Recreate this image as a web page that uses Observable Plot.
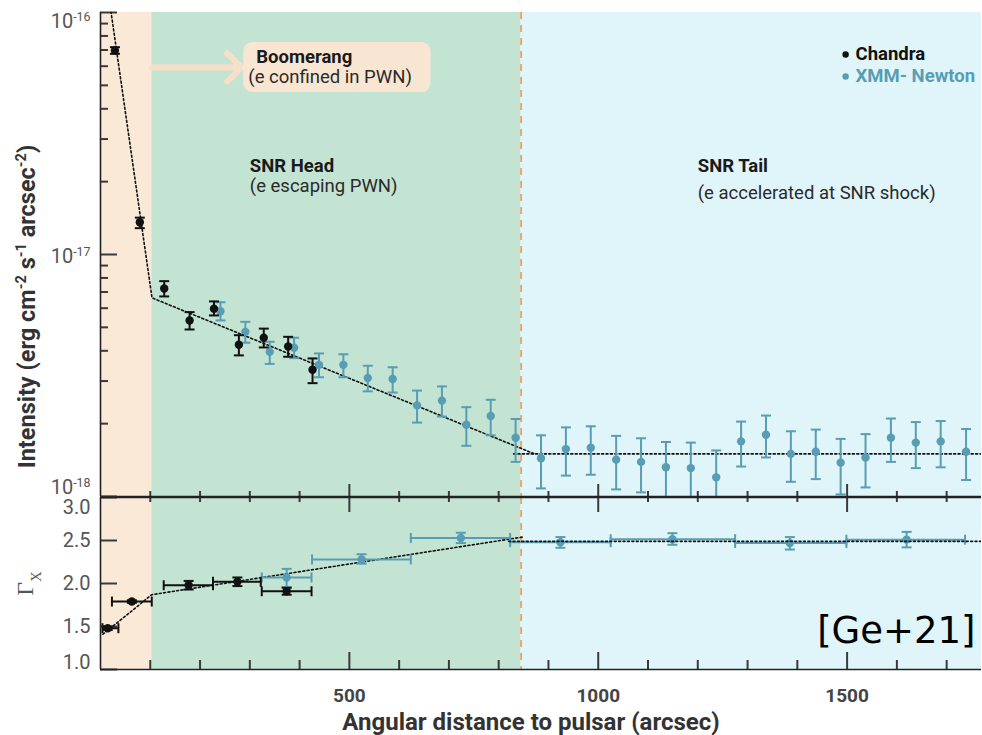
<!DOCTYPE html>
<html>
<head>
<meta charset="utf-8">
<script src="https://cdn.jsdelivr.net/npm/d3@7"></script>
<script src="https://cdn.jsdelivr.net/npm/@observablehq/plot@0.6"></script>
<style>
  body { margin: 0; background: #fff; }
  #chart { width: 982px; }
  #chart svg { display: block; }
</style>
</head>
<body>
<div id="chart"></div>
<script>
// X-ray profile along the Boomerang PWN and the SNR G106.3+2.7 head and tail

// Regions along the profile (arcsec) and their shading
const regionEdges = [0, 103, 845, 1770];
const regionFills = ["#fbe9d8", "#c4e4d3", "#e0f5fa"];

// Chandra surface brightness (erg cm^-2 s^-1 arcsec^-2)
const chandraX   = [29, 79, 128, 179, 228, 278, 328, 377, 426];
const chandraI   = [6.97e-17, 1.36e-17, 7.24e-18, 5.34e-18, 5.97e-18, 4.24e-18, 4.53e-18, 4.17e-18, 3.34e-18];
const chandraIHi = [7.19e-17, 1.42e-17, 7.76e-18, 5.78e-18, 6.40e-18, 4.64e-18, 4.94e-18, 4.57e-18, 3.72e-18];
const chandraILo = [6.75e-17, 1.285e-17, 6.71e-18, 4.90e-18, 5.60e-18, 3.83e-18, 4.13e-18, 3.78e-18, 2.94e-18];

// XMM-Newton surface brightness
const xmmX = [241, 291, 340, 389, 439, 488, 537, 587, 636, 686, 735, 784, 834, 885, 935, 985,
              1036, 1086, 1136, 1186, 1237, 1287, 1337, 1387, 1437, 1487, 1537, 1588, 1638, 1688, 1739];
const xmmI = [5.83e-18, 4.79e-18, 3.96e-18, 4.12e-18, 3.50e-18, 3.50e-18, 3.09e-18, 3.06e-18, 2.38e-18, 2.49e-18,
              1.98e-18, 2.15e-18, 1.75e-18, 1.44e-18, 1.57e-18, 1.59e-18, 1.42e-18, 1.39e-18, 1.32e-18, 1.31e-18,
              1.20e-18, 1.69e-18, 1.80e-18, 1.50e-18, 1.53e-18, 1.38e-18, 1.45e-18, 1.75e-18, 1.67e-18, 1.69e-18, 1.53e-18];
const xmmIHi = [6.35e-18, 5.27e-18, 4.36e-18, 4.53e-18, 3.90e-18, 3.87e-18, 3.47e-18, 3.42e-18, 2.74e-18, 2.85e-18,
                2.34e-18, 2.51e-18, 2.09e-18, 1.79e-18, 1.93e-18, 1.95e-18, 1.78e-18, 1.74e-18, 1.68e-18, 1.67e-18,
                1.55e-18, 2.04e-18, 2.16e-18, 1.86e-18, 1.89e-18, 1.73e-18, 1.81e-18, 2.10e-18, 2.03e-18, 2.05e-18, 1.90e-18];
const xmmILo = [5.34e-18, 4.32e-18, 3.53e-18, 3.73e-18, 3.11e-18, 3.11e-18, 2.72e-18, 2.69e-18, 2.02e-18, 2.14e-18,
                1.62e-18, 1.79e-18, 1.39e-18, 1.08e-18, 1.22e-18, 1.23e-18, 1.07e-18, 1.04e-18, 0.97e-18, 0.97e-18,
                0.95e-18, 1.33e-18, 1.45e-18, 1.15e-18, 1.18e-18, 1.02e-18, 1.09e-18, 1.39e-18, 1.31e-18, 1.32e-18, 1.17e-18];

// Broken power-law model of the brightness profile
const fitX  = [21, 103.5, 872];
const fitI  = [1.01e-16, 6.62e-18, 1.50e-18];
const tailFitX = [830, 1770];
const tailFitI = [1.50e-18, 1.50e-18];

// Photon index, Chandra
const chandraGX   = [14.5, 63, 177, 275, 374];
const chandraGXLo = [4, 23, 127, 226, 324];
const chandraGXHi = [36, 103, 226, 322, 424];
const chandraG    = [1.48, 1.79, 1.98, 2.02, 1.91];
const chandraGLo  = [1.46, 1.775, 1.93, 1.97, 1.87];
const chandraGHi  = [1.50, 1.805, 2.03, 2.07, 1.95];

// Photon index, XMM-Newton
const xmmGX   = [374, 524.5, 724, 924, 1149, 1385, 1619.5];
const xmmGXLo = [324, 425, 623.5, 823, 1025, 1275, 1498.6];
const xmmGXHi = [424, 623.5, 823, 1025, 1275, 1498.6, 1737];
const xmmG    = [2.07, 2.28, 2.53, 2.48, 2.515, 2.47, 2.51];
const xmmGLo  = [1.96, 2.23, 2.47, 2.415, 2.45, 2.395, 2.42];
const xmmGHi  = [2.17, 2.34, 2.59, 2.54, 2.585, 2.54, 2.60];

// Photon index model
const gFitX = [5, 103, 848];
const gFit  = [1.41, 1.87, 2.54];
const gTailX = [820, 1770];
const gTail  = [2.49, 2.49];

// Ticks and labels
const yMajor = [1e-18, 1e-17, 1e-16];
const yMajorLabels = ["10^-18", "10^-17", "10^-16"];
const yMinor = [2e-18, 3e-18, 4e-18, 5e-18, 6e-18, 7e-18, 8e-18, 9e-18,
                2e-17, 3e-17, 4e-17, 5e-17, 6e-17, 7e-17, 8e-17, 9e-17];
const xMajor = [500, 1000, 1500];
const xMajorLabels = ["500", "1000", "1500"];
const xMinor = [100, 200, 300, 400, 600, 700, 800, 900, 1100, 1200, 1300, 1400, 1600, 1700];
const gTicks = [1.0, 1.5, 2.0, 2.5, 3.0];
const gTickLabels = ["1.0", "1.5", "2.0", "2.5", "3.0"];

const seriesNames = ["Chandra", "XMM- Newton"];
const seriesColors = ["#111111", "#589db3"];

const intensityLabel = "Intensity (erg cm^-2 s^-1 arcsec^-2)";
const gammaLabel = "Γ_X";
const xLabel = "Angular distance to pulsar (arcsec)";

// ---- layout
const W = 982, ML = 100, MR = 1;
const frameW = W - ML - MR;
const upperH = 497, upperMT = 12, upperMB = 1, upperFrameH = upperH - upperMT - upperMB;
const lowerH = 238, lowerMT = 0, lowerMB = 66, lowerFrameH = lowerH - lowerMT - lowerMB;
const yDomainUpper = [1e-18, 1e-16];
const yDomainLower = [1, 3];

// ---- derived tables
const xMin = regionEdges[0], xMax = regionEdges[3];
const regions = regionFills.map((fill, i) => ({x1: regionEdges[i], x2: regionEdges[i + 1], fill}));
const chandraProfile = chandraX.map((x, i) => ({x, v: chandraI[i], lo: chandraILo[i], hi: chandraIHi[i]}));
const xmmProfile = xmmX.map((x, i) => ({x, v: xmmI[i], lo: xmmILo[i], hi: xmmIHi[i]}));
const fitLine = fitX.map((x, i) => ({x, v: fitI[i]}));
const tailFitLine = tailFitX.map((x, i) => ({x, v: tailFitI[i]}));
const chandraIndex = chandraGX.map((x, i) => ({x, xlo: chandraGXLo[i], xhi: chandraGXHi[i], v: chandraG[i], lo: chandraGLo[i], hi: chandraGHi[i]}));
const xmmIndex = xmmGX.map((x, i) => ({x, xlo: xmmGXLo[i], xhi: xmmGXHi[i], v: xmmG[i], lo: xmmGLo[i], hi: xmmGHi[i]}));
const gFitLine = gFitX.map((x, i) => ({x, v: gFit[i]}));
const gTailLine = gTailX.map((x, i) => ({x, v: gTail[i]}));
const yTickTable = yMajor.map((v, i) => ({x: xMin, v, label: yMajorLabels[i]}));
const xTickTable = xMajor.map((v, i) => ({v, y: 1, label: xMajorLabels[i]}));
const gTickTable = gTicks.map((v, i) => ({x: xMin, v, label: gTickLabels[i]}));

// pixel lengths expressed in scale units, for inward tick marks
const xPerPx = (xMax - xMin) / frameW;
const logDecadesPerPx = Math.log10(yDomainUpper[1] / yDomainUpper[0]) / upperFrameH;
const gPerPx = (yDomainLower[1] - yDomainLower[0]) / lowerFrameH;

// error-bar caps as custom dot symbols
const len = (size) => Math.sqrt(size / Math.PI);
const capH = {draw(ctx, size) { const w = len(size); ctx.moveTo(-w, 0); ctx.lineTo(w, 0); }};
const capV = {draw(ctx, size) { const w = len(size); ctx.moveTo(0, -w); ctx.lineTo(0, w); }};

function yErrors(data, color) {
  return [
    Plot.ruleX(data, {x: "x", y1: "lo", y2: "hi", stroke: color, strokeWidth: 2, clip: true}),
    Plot.dot(data, {x: "x", y: "hi", symbol: capH, r: 5, stroke: color, strokeWidth: 2, fill: "none", clip: true}),
    Plot.dot(data, {x: "x", y: "lo", symbol: capH, r: 5, stroke: color, strokeWidth: 2, fill: "none", clip: true})
  ];
}
function xErrors(data, color) {
  return [
    Plot.ruleY(data, {y: "v", x1: "xlo", x2: "xhi", stroke: color, strokeWidth: 2}),
    Plot.dot(data, {x: "xlo", y: "v", symbol: capV, r: 5, stroke: color, strokeWidth: 2, fill: "none"}),
    Plot.dot(data, {x: "xhi", y: "v", symbol: capV, r: 5, stroke: color, strokeWidth: 2, fill: "none"})
  ];
}
// inward tick marks drawn as short rules from the frame edge
const tickStyle = {stroke: "#3a3a3a", strokeWidth: 2};
function leftTicks(values, length) {
  const rows = values.map((v) => ({v, x1: xMin, x2: xMin + length * xPerPx}));
  return Plot.ruleY(rows, {y: "v", x1: "x1", x2: "x2", ...tickStyle});
}
function logEdgeTicks(values, edge, length) {
  const rows = values.map((v) => ({v, y1: edge, y2: edge * Math.pow(10, length * logDecadesPerPx)}));
  return Plot.ruleX(rows, {x: "v", y1: "y1", y2: "y2", ...tickStyle});
}
function linEdgeTicks(values, edge, length) {
  const rows = values.map((v) => ({v, y1: edge, y2: edge + length * gPerPx}));
  return Plot.ruleX(rows, {x: "v", y1: "y1", y2: "y2", ...tickStyle});
}
function yTickLabels(rows, dy) {
  return Plot.text(rows, {x: "x", y: "v", text: "label", dx: -10, dy, textAnchor: "end", fontSize: 20, fill: "#555"});
}

const fitStyle = {stroke: "#111", strokeWidth: 1.6, strokeDasharray: "2,2.4", clip: true};
const axisStroke = {stroke: "#222", strokeWidth: 1.6};
const boundary = Plot.ruleX([regionEdges[2]], {stroke: "#eba86a", strokeWidth: 2, strokeDasharray: "7,6"});
const xDomain = [xMin, xMax];

const upperPanel = Plot.plot({
  width: W, height: upperH,
  marginLeft: ML, marginRight: MR, marginTop: upperMT, marginBottom: upperMB,
  style: {fontFamily: "Roboto, sans-serif", overflow: "visible", background: "transparent"},
  x: {domain: xDomain, axis: null},
  y: {type: "log", domain: yDomainUpper, axis: null},
  marks: [
    Plot.rect(regions, {x1: "x1", x2: "x2", fill: "fill"}),
    // frame ticks
    leftTicks(yMinor, 8),
    leftTicks(yMajor, 17),
    logEdgeTicks(xMinor, yDomainUpper[0], 5),
    logEdgeTicks(xMajor, yDomainUpper[0], 12),
    // annotation: arrow and box for the PWN region
    Plot.arrow([0], {x1: regionEdges[1], x2: 283, y1: 5.93e-17, y2: 5.93e-17, stroke: "#f8e0c8", strokeWidth: 6, headLength: 5, headAngle: 90}),
    Plot.rect([0], {x1: 288, x2: 664, y1: 4.67e-17, y2: 7.52e-17, fill: "#f9e6d2", rx: 9}),
    Plot.text(["Boomerang"], {x: 313, y: 6.55e-17, textAnchor: "start", fontWeight: "bold", fontSize: 18.5, fill: "#1a1a1a"}),
    Plot.text(["(e confined in PWN)"], {x: 297, y: 5.40e-17, textAnchor: "start", fontSize: 18.5, fill: "#2a2a2a"}),
    Plot.text(["SNR Head"], {x: 300, y: 2.33e-17, textAnchor: "start", fontWeight: "bold", fontSize: 18.5, fill: "#1a1a1a"}),
    Plot.text(["(e escaping PWN)"], {x: 300, y: 1.91e-17, textAnchor: "start", fontSize: 18.5, fill: "#2a2a2a"}),
    Plot.text(["SNR Tail"], {x: 1200, y: 2.33e-17, textAnchor: "start", fontWeight: "bold", fontSize: 18.5, fill: "#1a1a1a"}),
    Plot.text(["(e accelerated at SNR shock)"], {x: 1200, y: 1.79e-17, textAnchor: "start", fontSize: 18.5, fill: "#2a2a2a"}),
    // legend
    Plot.dot(seriesNames, {x: 1497, y: (d, i) => [6.71e-17, 5.44e-17][i], r: 3.2, fill: (d, i) => seriesColors[i], stroke: null}),
    Plot.text(seriesNames, {x: 1517, y: (d, i) => [6.71e-17, 5.44e-17][i], textAnchor: "start", fontWeight: "bold", fontSize: 18.5, fill: (d, i) => seriesColors[i]}),
    boundary,
    Plot.line(fitLine, {x: "x", y: "v", ...fitStyle}),
    Plot.line(tailFitLine, {x: "x", y: "v", ...fitStyle}),
    ...yErrors(xmmProfile, seriesColors[1]),
    Plot.dot(xmmProfile, {x: "x", y: "v", r: 4.2, fill: seriesColors[1]}),
    ...yErrors(chandraProfile, seriesColors[0]),
    Plot.dot(chandraProfile, {x: "x", y: "v", r: 4.2, fill: seriesColors[0]}),
    // frame lines and tick labels
    Plot.ruleX([xMin], axisStroke),
    Plot.ruleY([yDomainUpper[0]], axisStroke),
    yTickLabels(yTickTable.slice(2), 9),
    yTickLabels(yTickTable.slice(1, 2), 2),
    yTickLabels(yTickTable.slice(0, 1), -9),
    Plot.text([intensityLabel], {frameAnchor: "left", dx: -73, dy: 52, rotate: -90, textAnchor: "middle", lineAnchor: "middle", fontWeight: "bold", fontSize: 23.5, fill: "#333"})
  ]
});

const lowerPanel = Plot.plot({
  width: W, height: lowerH,
  marginLeft: ML, marginRight: MR, marginTop: lowerMT, marginBottom: lowerMB,
  style: {fontFamily: "Roboto, sans-serif", overflow: "visible", background: "transparent"},
  x: {domain: xDomain, axis: null},
  y: {domain: yDomainLower, axis: null},
  marks: [
    Plot.rect(regions, {x1: "x1", x2: "x2", fill: "fill"}),
    // frame ticks
    leftTicks(gTicks, 17),
    linEdgeTicks(xMinor, yDomainLower[1], -5),
    linEdgeTicks(xMajor, yDomainLower[1], -15),
    linEdgeTicks(xMinor, yDomainLower[0], 9),
    linEdgeTicks(xMajor, yDomainLower[0], 17),
    boundary,
    Plot.text(["[Ge+21]"], {x: 1758, y: 1.45, textAnchor: "end", fontFamily: "DejaVu Sans", fontSize: 37, fill: "#000"}),
    Plot.line(gFitLine, {x: "x", y: "v", ...fitStyle}),
    ...xErrors(xmmIndex, seriesColors[1]),
    ...yErrors(xmmIndex, seriesColors[1]),
    Plot.dot(xmmIndex, {x: "x", y: "v", r: 4.2, fill: seriesColors[1]}),
    ...xErrors(chandraIndex, seriesColors[0]),
    ...yErrors(chandraIndex, seriesColors[0]),
    Plot.dot(chandraIndex, {x: "x", y: "v", r: 4.2, fill: seriesColors[0]}),
    Plot.line(gTailLine, {x: "x", y: "v", ...fitStyle}),
    // frame lines and labels
    Plot.ruleX([xMin], axisStroke),
    Plot.ruleY([yDomainLower[1]], axisStroke),
    Plot.ruleY([yDomainLower[0]], axisStroke),
    yTickLabels(gTickTable.slice(4), 10),
    yTickLabels(gTickTable.slice(1, 4), 0),
    yTickLabels(gTickTable.slice(0, 1), -7),
    Plot.text(xTickTable, {x: "v", y: "y", text: "label", dy: 26, fontSize: 19, fontWeight: "bold", fill: "#444"}),
    Plot.text([gammaLabel], {frameAnchor: "left", dx: -75, rotate: -90, textAnchor: "middle", lineAnchor: "middle", fontFamily: "Liberation Serif", fontSize: 24, fill: "#555"}),
    Plot.text([xLabel], {frameAnchor: "bottom", dx: -10, dy: 53, textAnchor: "middle", lineAnchor: "middle", fontWeight: "bold", fontSize: 24, fill: "#333"})
  ]
});

// turn "^..." and "_..." in labels into raised / lowered tspans
function scripts(root) {
  const walker = document.createTreeWalker(root, NodeFilter.SHOW_TEXT);
  const nodes = [];
  while (walker.nextNode()) if (/[\^_]/.test(walker.currentNode.nodeValue)) nodes.push(walker.currentNode);
  for (const node of nodes) {
    const frag = document.createDocumentFragment();
    for (const part of node.nodeValue.split(/([\^_](?:-?\d+|[A-Za-z]))/)) {
      if (!part) continue;
      if (part[0] === "^" || part[0] === "_") {
        const ts = document.createElementNS("http://www.w3.org/2000/svg", "tspan");
        ts.setAttribute("baseline-shift", part[0] === "^" ? "super" : "sub");
        ts.setAttribute("font-size", "62%");
        ts.textContent = part.slice(1);
        frag.appendChild(ts);
      } else {
        frag.appendChild(document.createTextNode(part));
      }
    }
    node.parentNode.replaceChild(frag, node);
  }
}
scripts(upperPanel);
scripts(lowerPanel);

const chart = document.getElementById("chart");
chart.appendChild(upperPanel);
chart.appendChild(lowerPanel);
</script>
</body>
</html>
